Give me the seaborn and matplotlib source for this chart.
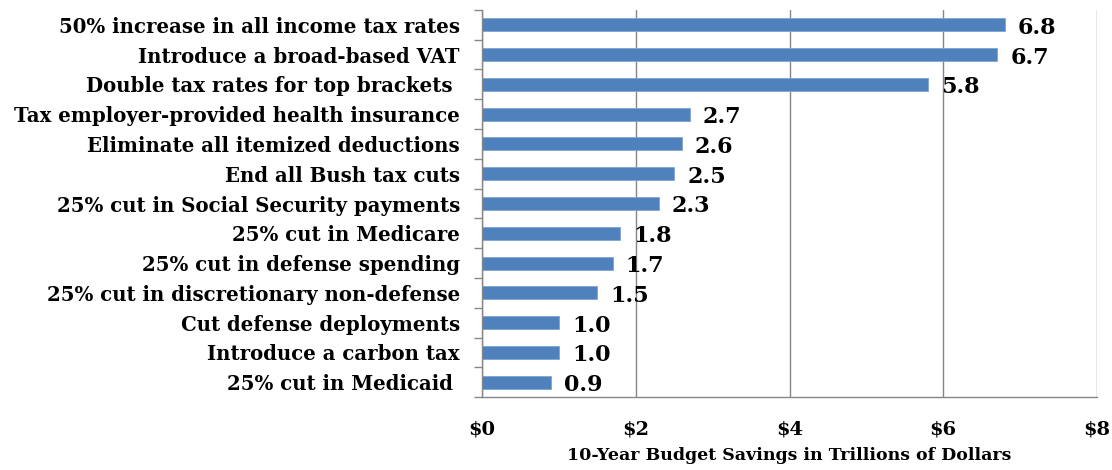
import matplotlib
matplotlib.use("Agg")
import matplotlib.pyplot as plt
import seaborn as sns
import pandas as pd

categories = [
    "50% increase in all income tax rates",
    "Introduce a broad-based VAT",
    "Double tax rates for top brackets ",
    "Tax employer-provided health insurance",
    "Eliminate all itemized deductions",
    "End all Bush tax cuts",
    "25% cut in Social Security payments",
    "25% cut in Medicare",
    "25% cut in defense spending",
    "25% cut in discretionary non-defense",
    "Cut defense deployments",
    "Introduce a carbon tax",
    "25% cut in Medicaid ",
]
values = [6.8, 6.7, 5.8, 2.7, 2.6, 2.5, 2.3, 1.8, 1.7, 1.5, 1.0, 1.0, 0.9]
xticks = [0, 2, 4, 6, 8]
xticklabels = ["$0", "$2", "$4", "$6", "$8"]
xlabel = "10-Year Budget Savings in Trillions of Dollars"

sns.set_style("white")
plt.rcParams["font.family"] = ["DejaVu Serif"]
plt.rcParams["text.color"] = "black"
plt.rcParams["axes.labelcolor"] = "black"
plt.rcParams["xtick.labelcolor"] = "black"
plt.rcParams["ytick.labelcolor"] = "black"

df = pd.DataFrame({"cat": categories, "val": values})

fig = plt.figure(figsize=(11.12, 4.70), dpi=100)
ax = fig.add_axes([0.4335, 0.155, 0.9865 - 0.4335, 0.979 - 0.155])

sns.barplot(data=df, y="cat", x="val", orient="h", color="#4F81BD",
            saturation=1, width=0.44, ax=ax, edgecolor="#7FA4D4", linewidth=0.6)

ax.set_xlim(0, 8)
ax.set_ylim(len(categories) - 0.5, -0.5)
ax.set_xticks(xticks)
ax.set_xticklabels(xticklabels, fontsize=14, fontweight="bold", color="black")
ax.set_xlabel(xlabel, fontsize=12.5, fontweight="bold", labelpad=6, color="black")
ax.set_ylabel("")
ax.set_yticks(range(len(categories)))
ax.set_yticklabels(categories, fontsize=14.2, fontweight="bold", color="black")
ax.tick_params(axis="y", length=0, pad=16)
ax.tick_params(axis="x", length=5, color="#868686", width=1, pad=12)

# category boundary ticks on y axis
ax.set_yticks([i - 0.5 for i in range(len(categories) + 1)], minor=True)
ax.tick_params(axis="y", which="minor", length=6, color="#868686", width=1, left=True)

ax.grid(axis="x", color="#868686", linewidth=1)
ax.set_axisbelow(True)
for s in ["top", "right"]:
    ax.spines[s].set_visible(False)
for s in ["left", "bottom"]:
    ax.spines[s].set_color("#868686")
    ax.spines[s].set_linewidth(1)

for i, v in enumerate(values):
    ax.text(v + 0.17, i + 0.1, f"{v:.1f}", va="center", ha="left",
            fontsize=16, fontweight="semibold", color="black")

fig.savefig("out.png", dpi=100)
